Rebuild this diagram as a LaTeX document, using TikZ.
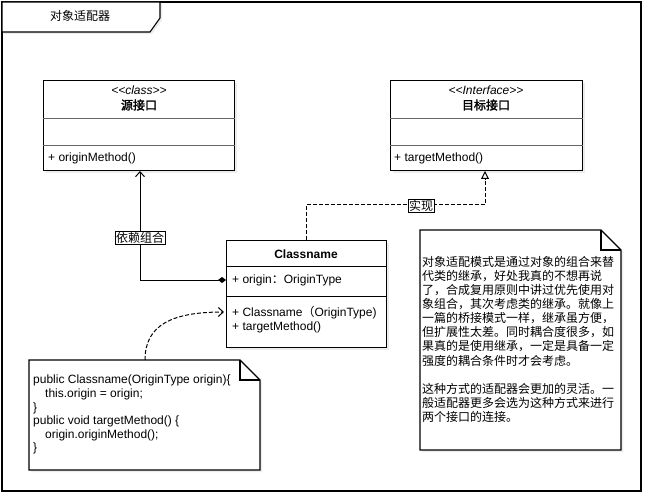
\documentclass[tikz,border=0pt]{standalone}
\usepackage{fontspec}
\setmainfont{Liberation Sans}
\newfontfamily\cjk{Noto Sans CJK SC}[AutoFakeBold=2]
\usetikzlibrary{arrows.meta,shadows}
\begin{document}
\begin{tikzpicture}[x=1pt,y=-1pt,
  every node/.style={font=\fontsize{12}{14}\selectfont, inner sep=0pt},
  shd/.style={drop shadow={opacity=0.15,shadow xshift=2pt,shadow yshift=-2pt}},
  umlbox/.style={draw=black, line width=1.1pt, fill=white, anchor=north west, shd},
  divider/.style={draw=black!60, line width=0.7pt},
  txtw/.style={anchor=west},
  conn/.style={draw=black, line width=1pt},
  dconn/.style={draw=black, line width=1pt, dash pattern=on 4pt off 2pt},
  notebox/.style={draw=black, line width=1.1pt, fill=white, shd},
  edgelbl/.style={draw=black, line width=0.6pt, fill=white, inner sep=1pt, font=\cjk\fontsize{12}{14}\selectfont}
]
\useasboundingbox (0,0) rectangle (652,502);

% outer frame and tab
\draw[line width=1.1pt, fill=white] (2,2) rectangle (641,491);
\draw[line width=1.1pt, fill=white, shd] (2,2) -- (160,2) -- (160,18) -- (150,32) -- (2,32) -- cycle;
\node (title) at (80,16) {\cjk 对象适配器};

% source interface
\node[umlbox, minimum width=191pt, minimum height=90pt] (src) at (43,80) {};
\draw[divider] ([yshift=-38pt]src.north west) -- ([yshift=-38pt]src.north east);
\draw[divider] ([yshift=-65pt]src.north west) -- ([yshift=-65pt]src.north east);
\node[font=\itshape\fontsize{12}{14}\selectfont] (srcst) at (139,90) {<\kern0pt<class>\kern0pt>};
\node[font=\cjk\bfseries\fontsize{12}{14}\selectfont] (srcname) at (139,105) {源接口};
\node[txtw] (srcm) at (48,158) {+ originMethod()};

% target interface
\node[umlbox, minimum width=192pt, minimum height=90pt] (tgt) at (390,80) {};
\draw[divider] ([yshift=-38pt]tgt.north west) -- ([yshift=-38pt]tgt.north east);
\draw[divider] ([yshift=-65pt]tgt.north west) -- ([yshift=-65pt]tgt.north east);
\node[font=\itshape\fontsize{12}{14}\selectfont] (tgtst) at (486,90) {<\kern0pt<Interface>\kern0pt>};
\node[font=\cjk\bfseries\fontsize{12}{14}\selectfont] (tgtname) at (486,105) {目标接口};
\node[txtw] (tgtm) at (394,158) {+ targetMethod()};

% adapter class
\node[umlbox, minimum width=160pt, minimum height=107pt] (cls) at (226,240) {};
\draw[line width=1pt] ([yshift=-26pt]cls.north west) -- ([yshift=-26pt]cls.north east);
\draw[line width=1pt] ([yshift=-56pt]cls.north west) -- ([yshift=-56pt]cls.north east);
\node[font=\bfseries\fontsize{12}{14}\selectfont] (clsname) at (306,254) {Classname};
\node[txtw] (clsf) at (232,280) {+ origin{\cjk ：}OriginType};
\node[txtw] (clsm1) at (232,313) {+ Classname{\cjk （}OriginType)};
\node[txtw] (clsm2) at (232,327) {+ targetMethod()};

% connectors
\coordinate (clsfield) at (226,280);
\coordinate (srcdep) at (140,171);
\draw[conn, {Diamond[length=8pt,width=6pt]}-{Straight Barb[length=5pt,width=9pt]}] (clsfield) -| (srcdep);
\node[edgelbl] (deplbl) at (140,238) {依赖组合};

\coordinate (clstop) at (306,240);
\coordinate (tgtimpl) at (485,171);
\draw[dconn, -{Triangle[open,length=8pt,width=8pt,fill=white]}] (clstop) -- ++(0,-35) -| (tgtimpl);
\node[edgelbl] (impllbl) at (421,206) {实现};

% code note
\draw[notebox] (29,360) -- (240,360) -- (260,380) -- (260,470) -- (29,470) -- cycle;
\draw[line width=1.1pt] (240,360) -- (240,380) -- (260,380);
\coordinate (n1top) at (145,360);
\coordinate (clsctor) at (224,312);
\draw[dconn, -{Straight Barb[length=5pt,width=9pt]}] (n1top) .. controls (145,325) and (172,312) .. (clsctor);
\node[anchor=north west, align=left, font=\fontsize{12}{13.6}\selectfont] (code) at (33,375)
{public Classname(OriginType origin)\{\\
\hspace*{12pt}this.origin = origin;\\
\}\\
public void targetMethod() \{\\
\hspace*{12pt}origin.originMethod();\\
\}};

% description note
\draw[notebox] (420,230) -- (601,230) -- (621,250) -- (621,450) -- (420,450) -- cycle;
\draw[line width=1.1pt] (601,230) -- (601,250) -- (621,250);
\node[anchor=north west, align=left, font=\cjk\fontsize{12}{14.1}\selectfont] (desc) at (422,256)
{对象适配模式是通过对象的组合来替\\
代类的继承，好处我真的不想再说\\
了，合成复用原则中讲过优先使用对\\
象组合，其次考虑类的继承。就像上\\
一篇的桥接模式一样，继承虽方便，\\
但扩展性太差。同时耦合度很多，如\\
果真的是使用继承，一定是具备一定\\
强度的耦合条件时才会考虑。\\[14.1pt]
这种方式的适配器会更加的灵活。一\\
般适配器更多会选为这种方式来进行\\
两个接口的连接。};
\end{tikzpicture}
\end{document}
